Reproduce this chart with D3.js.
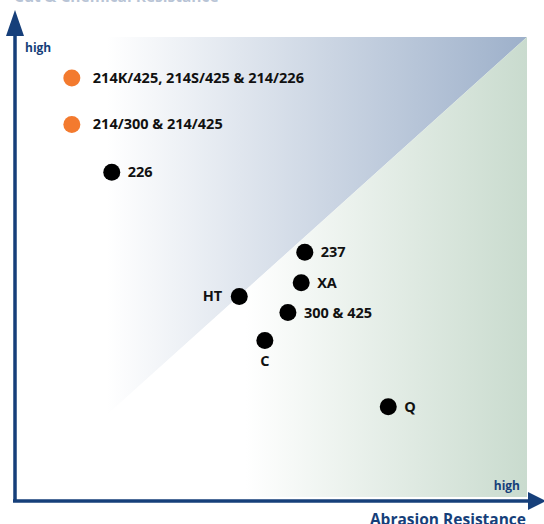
<!DOCTYPE html>
<html>
<head>
<meta charset="utf-8">
<script src="https://cdn.jsdelivr.net/npm/d3@7"></script>
<style>
  body { margin: 0; background: #fff; }
  svg { display: block; font-family: "Open Sans", sans-serif; font-weight: bold; }
</style>
</head>
<body>
<script>
// data: position on the two resistance scales (0..100)
var names = ["214K/425, 214S/425 & 214/226", "214/300 & 214/425", "226", "237", "XA", "HT", "300 & 425", "C", "Q"];
var abrasion = [11.1, 11.1, 18.9, 56.6, 55.9, 43.8, 53.3, 48.8, 72.9];
var resist2 = [91.1, 81.0, 70.6, 53.2, 46.6, 43.6, 40.1, 34.0, 19.6];
var groups = ["orange", "orange", "black", "black", "black", "black", "black", "black", "black"];
var labelPos = ["right", "right", "right", "right", "right", "left", "right", "below", "right"];

var W = 544, H = 524;
var svg = d3.select("body").append("svg").attr("width", W).attr("height", H);

var x = d3.scaleLinear().domain([0, 100]).range([15, 527]);
var y = d3.scaleLinear().domain([0, 100]).range([497, 37]);
var colour = d3.scaleOrdinal().domain(["orange", "black"]).range(["#f37a2e", "#000000"]);

var defs = svg.append("defs");
var gBlue = defs.append("linearGradient").attr("id", "gblue").attr("gradientUnits", "userSpaceOnUse")
    .attr("x1", x(18)).attr("x2", x(100)).attr("y1", 0).attr("y2", 0);
gBlue.append("stop").attr("offset", 0).attr("stop-color", "#ffffff");
gBlue.append("stop").attr("offset", 1).attr("stop-color", "#9db0ca");
var gGreen = defs.append("linearGradient").attr("id", "ggreen").attr("gradientUnits", "userSpaceOnUse")
    .attr("x1", x(45)).attr("x2", x(100)).attr("y1", 0).attr("y2", 0);
gGreen.append("stop").attr("offset", 0).attr("stop-color", "#ffffff");
gGreen.append("stop").attr("offset", 1).attr("stop-color", "#c9dbce");

// background zones (upper triangle / lower part)
var x0 = 17.6, yd = 17.5;
var line = d3.line().x(function(d) { return x(d[0]); }).y(function(d) { return y(d[1]); });
svg.append("path").attr("d", line([[x0, 100], [100, 100], [x0, yd]]) + "Z").attr("fill", "url(#gblue)");
svg.append("path").attr("d", line([[100, 100], [100, 0], [x0, 0], [x0, yd]]) + "Z").attr("fill", "url(#ggreen)");

// axes
var navy = "#163f7a";
svg.append("line").attr("x1", 15).attr("y1", 502).attr("x2", 15).attr("y2", 28)
    .attr("stroke", navy).attr("stroke-width", 3.5);
svg.append("path").attr("d", "M15,10 L24,36 L6,36 Z").attr("fill", navy);
svg.append("line").attr("x1", 13).attr("y1", 501).attr("x2", 530).attr("y2", 501)
    .attr("stroke", navy).attr("stroke-width", 3.5);
svg.append("path").attr("d", "M546,501 L528,492 L528,510 Z").attr("fill", navy);

svg.append("text").attr("x", 25).attr("y", 52).text("high").attr("fill", navy).attr("font-size", 12);
svg.append("text").attr("x", 520).attr("y", 490).text("high").attr("fill", navy).attr("font-size", 12).attr("text-anchor", "end");
svg.append("text").attr("x", 526).attr("y", 525).text("Abrasion Resistance").attr("fill", navy)
    .attr("font-size", 15.5).attr("text-anchor", "end");
// y-axis title, mostly above the top edge as in the reference
svg.append("text").attr("x", 14).attr("y", 1.5).text("Cut & Chemical Resistance").attr("fill", navy)
    .attr("font-size", 15.5).attr("opacity", 0.3);

// points
var idx = d3.range(names.length);
svg.selectAll("circle.pt").data(idx).enter().append("circle").attr("class", "pt")
    .attr("cx", function(i) { return x(abrasion[i]); })
    .attr("cy", function(i) { return y(resist2[i]); })
    .attr("r", 8.5)
    .attr("fill", function(i) { return colour(groups[i]); });

svg.selectAll("text.lbl").data(idx).enter().append("text").attr("class", "lbl")
    .attr("x", function(i) {
        var p = labelPos[i];
        if (p == "left") return x(abrasion[i]) - 17;
        if (p == "below") return x(abrasion[i]);
        return x(abrasion[i]) + (groups[i] == "orange" ? 21 : 16);
    })
    .attr("y", function(i) {
        if (labelPos[i] == "below") return y(resist2[i]) + 25;
        return y(resist2[i]) + 5;
    })
    .attr("text-anchor", function(i) {
        var p = labelPos[i];
        return p == "left" ? "end" : (p == "below" ? "middle" : "start");
    })
    .attr("font-size", 14.5)
    .attr("fill", "#111")
    .text(function(i) { return names[i]; });
</script>
</body>
</html>
